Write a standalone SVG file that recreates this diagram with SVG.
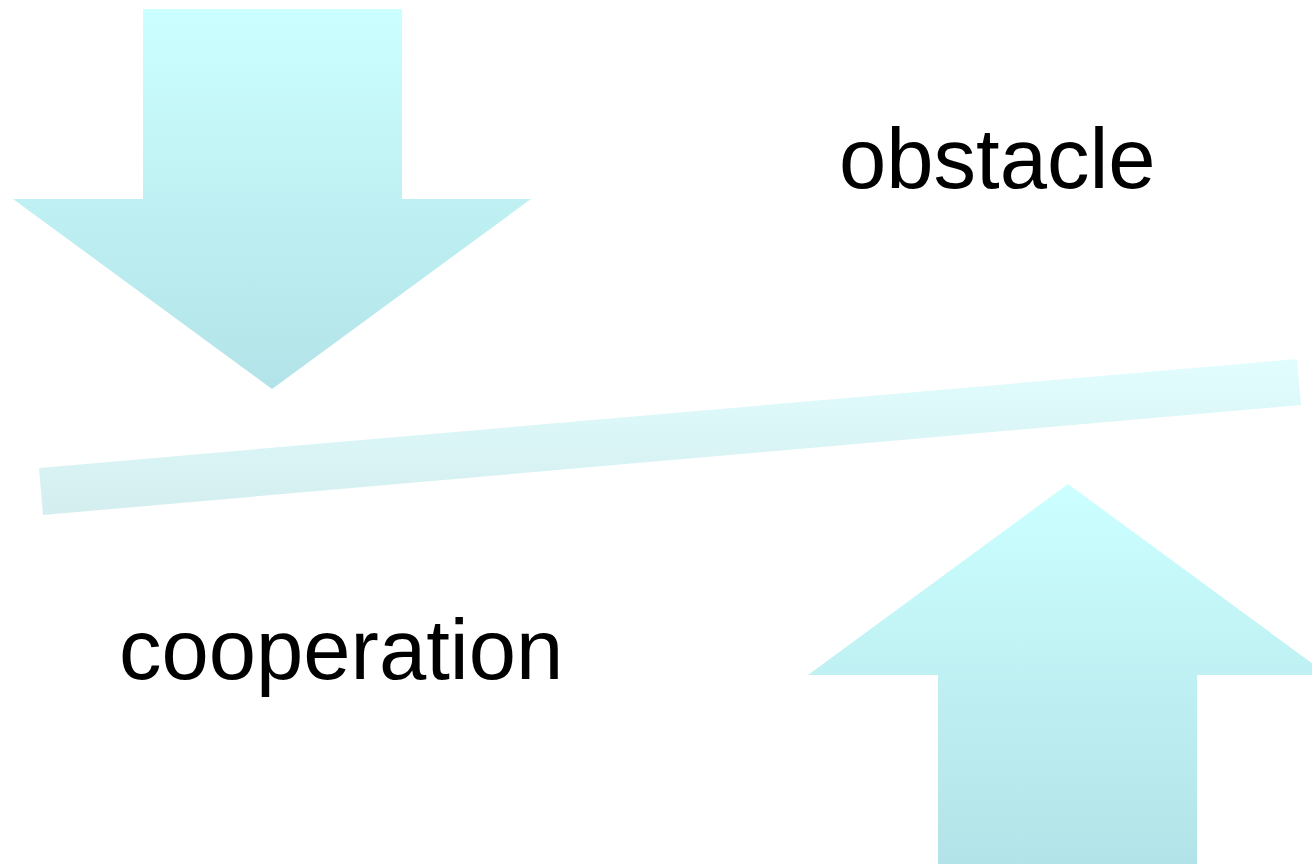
<svg xmlns="http://www.w3.org/2000/svg" width="1312" height="864" viewBox="0 0 1312 864">
<defs>
<linearGradient id="g1" x1="0" y1="0" x2="0" y2="1"><stop offset="0" stop-color="#ccffff"/><stop offset="1" stop-color="#b2e3e8"/></linearGradient>
<linearGradient id="g2" x1="0" y1="0" x2="0" y2="1"><stop offset="0" stop-color="#e2fdfd"/><stop offset="1" stop-color="#d4eef0"/></linearGradient>
<style>.t{font-family:"Liberation Sans",Arial,sans-serif;font-size:85px;fill:#000}</style>
</defs>
<rect width="1312" height="864" fill="#fff"/>
<g id="arrow-down"><polygon points="143,9 402,9 402,199 531,199 272,389 13,199 143,199" fill="url(#g1)"/></g>
<g id="bar"><polygon points="39,468 1297,359 1301,405 43,515" fill="url(#g2)"/></g>
<g id="arrow-up"><polygon points="1068,484 1328,675 1197,675 1197,864 938,864 938,675 808,675" fill="url(#g1)"/></g>
<g id="label-obstacle"><text class="t" x="839" y="188">obstacle</text></g>
<g id="label-cooperation"><text class="t" x="119" y="679">cooperation</text></g>
</svg>
